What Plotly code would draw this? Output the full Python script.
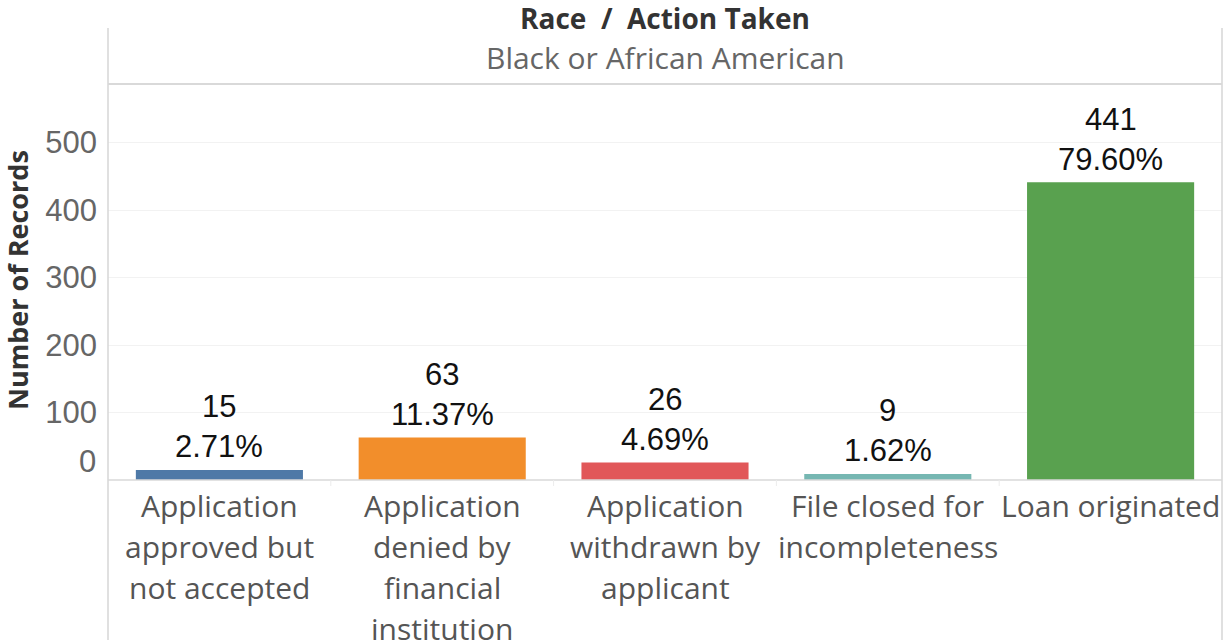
import plotly.graph_objects as go

# ---- data ----
categories = [
    "Application approved but not accepted",
    "Application denied by financial institution",
    "Application withdrawn by applicant",
    "File closed for incompleteness",
    "Loan originated",
]
category_lines = [
    ["Application", "approved but", "not accepted"],
    ["Application", "denied by", "financial", "institution"],
    ["Application", "withdrawn by", "applicant"],
    ["File closed for", "incompleteness"],
    ["Loan originated"],
]
counts = [15, 63, 26, 9, 441]
percents = ["2.71%", "11.37%", "4.69%", "1.62%", "79.60%"]
colors = ["#4E79A7", "#F28E2B", "#E15759", "#76B7B2", "#59A14F"]
y_tick_values = [100, 200, 300, 400, 500]
title_text = "Race\u00a0 /\u00a0 Action Taken"
subtitle_text = "Black or African American"
y_title = "Number of Records"

# ---- layout constants ----
W, H = 1225, 640
L, R, T, B = 108, 3, 84, 160
plot_h = H - T - B
Y_MAX = 586.7

def py(pixel_y):
    """pixel row -> paper y"""
    return (H - B - pixel_y) / plot_h

label_font = dict(family="Liberation Sans, Arial", size=31, color="#111111")
cat_font = dict(family="Open Sans", size=30, color="#555555")
tick_font = dict(family="Liberation Sans, Arial", size=31, color="#666666")

fig = go.Figure()
fig.add_trace(go.Bar(
    x=categories, y=counts, marker=dict(color=colors, line=dict(width=0)),
    width=0.75, hoverinfo="skip",
))

annotations = []
for cat, c, p in zip(categories, counts, percents):
    annotations.append(dict(x=cat, y=c, xref="x", yref="y", text=p, showarrow=False,
                            yanchor="middle", yshift=23, font=label_font))
    annotations.append(dict(x=cat, y=c, xref="x", yref="y", text=str(c), showarrow=False,
                            yanchor="middle", yshift=63, font=label_font))

for cat, lines in zip(categories, category_lines):
    for i, line in enumerate(lines):
        annotations.append(dict(x=cat, y=py(505 + 41 * i), xref="x", yref="paper",
                                text=line, showarrow=False, yanchor="middle",
                                font=cat_font))

# zero tick label (Tableau lifts it above the baseline)
annotations.append(dict(x=0, y=0, xref="paper", yref="y", text="0", showarrow=False,
                        xanchor="right", yanchor="middle", xshift=-10, yshift=19,
                        font=tick_font))
# header titles
annotations.append(dict(x=0.5, y=py(18), xref="paper", yref="paper", text=f"<b>{title_text}</b>",
                        showarrow=False, yanchor="middle",
                        font=dict(family="Open Sans", size=28, color="#333333")))
annotations.append(dict(x=0.5, y=py(58), xref="paper", yref="paper", text=subtitle_text,
                        showarrow=False, yanchor="middle",
                        font=dict(family="Open Sans", size=30, color="#666666")))
# y-axis title
annotations.append(dict(x=-(L - 17) / (W - L - R), y=py(280), xref="paper", yref="paper",
                        text=f"<b>{y_title}</b>", textangle=-90, showarrow=False,
                        xanchor="center", yanchor="middle",
                        font=dict(family="Open Sans", size=27, color="#333333")))

border = "#d6d6d6"
shapes = [
    dict(type="line", xref="paper", yref="paper", x0=0, x1=0, y0=py(28), y1=py(H),
         line=dict(color=border, width=1.5)),
    dict(type="line", xref="paper", yref="paper", x0=1, x1=1, y0=py(28), y1=py(H),
         line=dict(color=border, width=1.5)),
    dict(type="line", xref="paper", yref="paper", x0=0, x1=1, y0=1, y1=1,
         line=dict(color="#d9d9d9", width=2)),
    dict(type="line", xref="paper", yref="paper", x0=0, x1=1, y0=0, y1=0,
         line=dict(color="#d9d9d9", width=1.5)),
]
n = len(categories)
for k in range(1, n):
    shapes.append(dict(type="line", xref="paper", yref="paper", x0=k / n, x1=k / n,
                       y0=0, y1=py(H - B + 6), line=dict(color="#ececec", width=1)))

fig.update_layout(
    width=W, height=H,
    margin=dict(l=L, r=R, t=T, b=B, pad=0),
    paper_bgcolor="white", plot_bgcolor="white",
    showlegend=False,
    xaxis=dict(showticklabels=False, showgrid=False, zeroline=False, showline=False,
               range=[-0.5, n - 0.5], fixedrange=True),
    yaxis=dict(range=[0, Y_MAX], tickvals=y_tick_values, tickfont=tick_font,
               showgrid=True, gridcolor="#f2f2f2", gridwidth=1, zeroline=False,
               showline=False, ticks="", ticklabelstandoff=10, fixedrange=True),
    annotations=annotations, shapes=shapes,
)

fig.write_html(
    "out.html",
    config={"displayModeBar": False},
    post_script="document.body.style.margin='0';document.body.style.overflow='hidden';",
)
